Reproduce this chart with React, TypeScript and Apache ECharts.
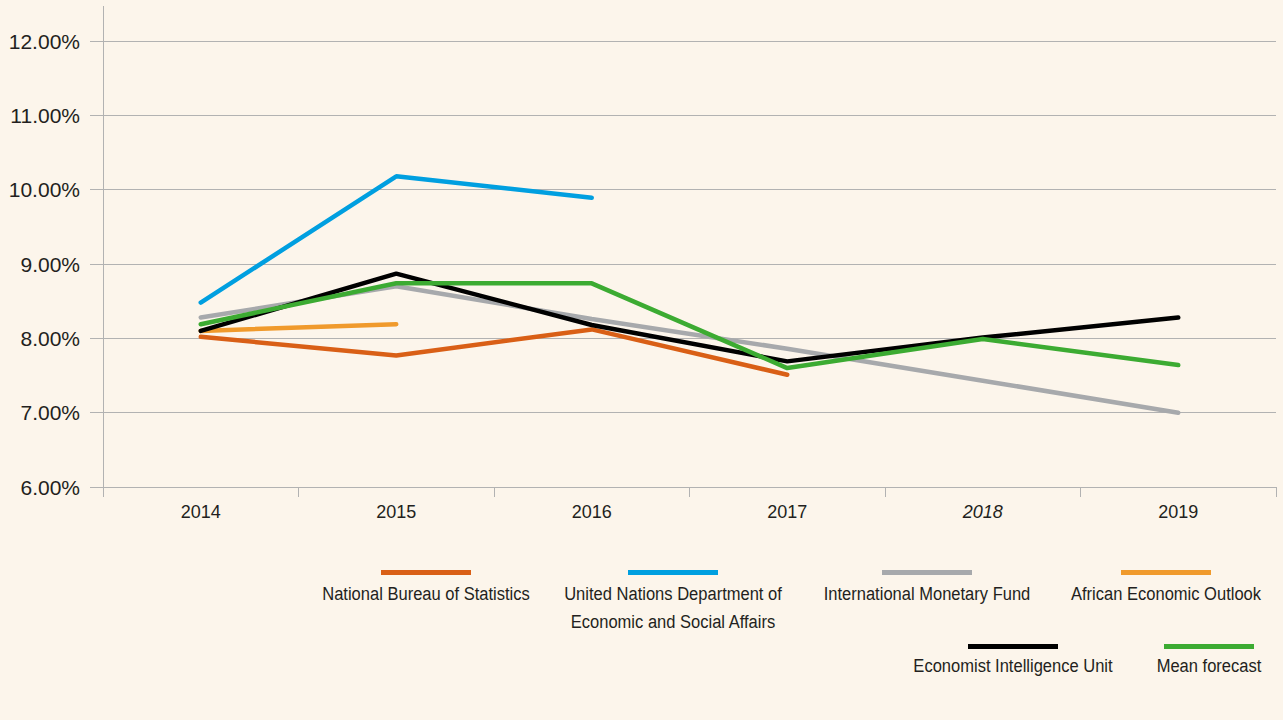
import React, { useEffect, useRef } from 'react';
import * as echarts from 'echarts';

const years = ['2014', '2015', '2016', '2017', '2018', '2019'];
const italicYears = ['2018'];

const nationalBureau = [8.02, 7.77, 8.12, 7.51, null, null];
const unDesa = [8.48, 10.18, 9.89, null, null, null];
const imf = [8.28, 8.7, 8.26, 7.86, 7.43, 7.0];
const africanOutlook = [8.1, 8.19, null, null, null, null];
const eiu = [8.1, 8.87, 8.18, 7.69, 8.01, 8.28];
const meanForecast = [8.19, 8.74, 8.74, 7.6, 7.99, 7.64];

const seriesNames = [
  'National Bureau of Statistics',
  'United Nations Department of\nEconomic and Social Affairs',
  'International Monetary Fund',
  'African Economic Outlook',
  'Economist Intelligence Unit',
  'Mean forecast',
];
const seriesData = [nationalBureau, unDesa, imf, africanOutlook, eiu, meanForecast];

const COLORS = ['#d95f16', '#009fe0', '#a7a9ac', '#f09a2c', '#000000', '#3cab32'];
const TEXT = '#231f20';
const GRID = '#b2b2b2';
const BG = '#fcf5eb';
const FONT = '"Liberation Sans", Arial, sans-serif';

// legend layout: [centerX, swatchY, first-line centre Y]
const LEGEND_POS = [
  [426, 570, 594],
  [673, 570, 594],
  [927, 570, 594],
  [1166, 570, 594],
  [1013, 644, 666],
  [1209, 644, 666],
];

export default function App() {
  const ref = useRef<HTMLDivElement>(null);
  useEffect(() => {
    if (!ref.current) return;
    const chart = echarts.init(ref.current, null, { renderer: 'svg' });
    const legendGraphics: any[] = [];
    seriesNames.forEach((name, i) => {
      const [cx, sy, ty] = LEGEND_POS[i];
      legendGraphics.push({
        type: 'rect',
        shape: { x: cx - 45, y: sy, width: 90, height: 5 },
        style: { fill: COLORS[i] },
      });
      legendGraphics.push({
        type: 'text',
        x: cx,
        y: ty - 14,
        scaleX: 0.87,
        style: {
          text: name,
          fill: TEXT,
          font: `19px ${FONT}`,
          align: 'center',
          verticalAlign: 'top',
          lineHeight: 28,
        },
      });
    });
    chart.setOption({
      animation: false,
      backgroundColor: BG,
      grid: { left: 103, right: 7, top: 41, bottom: 233 },
      xAxis: {
        type: 'category',
        data: years,
        boundaryGap: true,
        axisLine: { show: true, lineStyle: { color: GRID, width: 1 } },
        axisTick: { show: true, length: 10, lineStyle: { color: GRID } },
        axisLabel: {
          margin: 16,
          color: TEXT,
          fontFamily: FONT,
          fontSize: 18,
          formatter: (v: string) => (italicYears.includes(v) ? `{i|${v}}` : v),
          rich: { i: { fontStyle: 'italic', color: TEXT, fontFamily: FONT, fontSize: 18 } },
        },
      },
      yAxis: {
        type: 'value',
        min: 6,
        max: 12,
        interval: 1,
        axisLine: { show: true, lineStyle: { color: GRID, width: 1 } },
        axisTick: { show: true, length: 13, lineStyle: { color: GRID } },
        splitLine: { show: true, lineStyle: { color: GRID, width: 1 } },
        axisLabel: {
          margin: 23,
          color: TEXT,
          fontFamily: FONT,
          fontSize: 21,
          formatter: (v: number) => v.toFixed(2) + '%',
        },
      },
      series: seriesData.map((d, i) => ({
        name: seriesNames[i],
        type: 'line',
        data: d,
        showSymbol: false,
        symbol: 'none',
        connectNulls: false,
        lineStyle: { color: COLORS[i], width: 4.5, cap: 'round' },
        itemStyle: { color: COLORS[i] },
        z: 2 + i,
      })),
      graphic: [
        {
          type: 'line',
          shape: { x1: 103.5, y1: 6, x2: 103.5, y2: 41 },
          style: { stroke: GRID, lineWidth: 1 },
        },
        ...legendGraphics,
      ],
    });
    return () => chart.dispose();
  }, []);
  return (
    <div
      ref={ref}
      style={{ position: 'absolute', left: 0, top: 0, width: 1283, height: 720 }}
    />
  );
}
